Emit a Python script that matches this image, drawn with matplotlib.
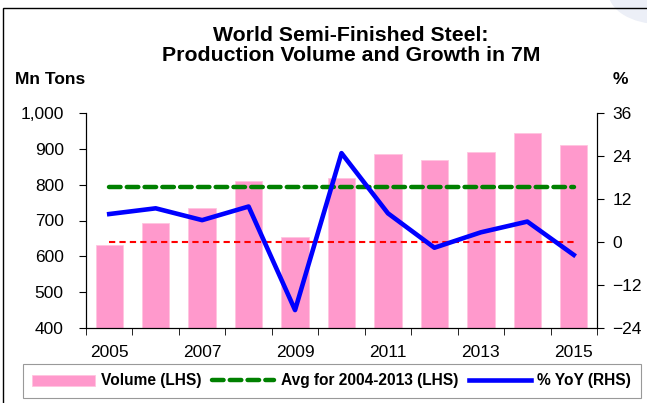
import numpy as np
import matplotlib.pyplot as plt
from matplotlib.patches import Rectangle, Ellipse

plt.rcParams['font.family'] = ['Liberation Sans', 'DejaVu Sans']

years = [2005, 2006, 2007, 2008, 2009, 2010, 2011, 2012, 2013, 2014, 2015]
volume = [633, 693, 736, 809, 655, 818, 885, 869, 892, 943, 911]
yoy = [7.8, 9.4, 6.1, 9.9, -19.0, 24.8, 8.0, -1.6, 2.7, 5.7, -3.6]
avg_2004_2013 = 793

x = np.arange(len(years))

fig = plt.figure(figsize=(6.47, 4.03), dpi=100)
# faint decoration in the top right corner
fig.patches.append(Ellipse((1.02, 1.02), 0.16, 0.16, transform=fig.transFigure,
                           facecolor='#eceff7', edgecolor='none', zorder=0))
fig.patches.append(Rectangle((3 / 647, -0.1), 1.1, 1 - 8 / 403 + 0.1, transform=fig.transFigure,
                             fill=False, edgecolor='black', linewidth=1.0))

ax = fig.add_axes([86 / 647, 1 - 328 / 403, (597 - 86) / 647, (328 - 113) / 403])
ax2 = ax.twinx()

bars = ax.bar(x, volume, width=0.59, color='#ff99cc', edgecolor='#ffc4e0', linewidth=0.6,
              label='Volume (LHS)', zorder=1)
avg_line, = ax.plot([x[0], x[-1]], [avg_2004_2013, avg_2004_2013], color='#008000',
                    linestyle=(0, (2.6, 1.4)), linewidth=3.2, dash_capstyle='round',
                    label='Avg for 2004-2013 (LHS)', zorder=3)
ax.set_ylim(400, 1000)
ax.set_yticks(range(400, 1001, 100))
ax.set_yticklabels([f'{v:,}' for v in range(400, 1001, 100)])
ax.set_xlim(-0.5, len(years) - 0.5)
ax.set_xticks(x[::2])
ax.set_xticklabels([str(y) for y in years[::2]])
ax.set_xticks(np.arange(-0.5, len(years)), minor=True)
ax.tick_params(axis='x', which='major', length=0, pad=12, labelsize=12.5)
ax.tick_params(axis='x', which='minor', length=5, direction='out')
ax.tick_params(axis='y', length=5, direction='out', labelsize=12.5, pad=11)

ax2.plot([x[0], x[-1]], [0, 0], color='red', linestyle=(0, (3, 2)), linewidth=1.5, zorder=2)
yoy_line, = ax2.plot(x, yoy, color='#0000ff', linewidth=3.3, label='% YoY (RHS)', zorder=4)
ax2.set_ylim(-24, 36)
ax2.set_yticks(range(-24, 37, 12))
ax2.tick_params(axis='y', length=5, direction='out', labelsize=12.5, pad=6)

for a in (ax, ax2):
    a.spines['top'].set_visible(False)
ax.set_zorder(ax2.get_zorder() - 1)
ax.patch.set_visible(True)
ax2.patch.set_visible(False)

fig.text(351 / 647, 1 - 26 / 403, 'World Semi-Finished Steel:\nProduction Volume and Growth in 7M',
         ha='center', va='top', fontsize=15.3, fontweight='bold', linespacing=1.05)
fig.text(15 / 647, 1 - 80 / 403, 'Mn Tons', ha='left', va='center', fontsize=12.5, fontweight='bold')
fig.text(613 / 647, 1 - 80 / 403, '%', ha='left', va='center', fontsize=12.5, fontweight='bold')

leg = fig.legend(handles=[bars, avg_line, yoy_line], loc='center left',
                 bbox_to_anchor=(23 / 647, 1 - 381 / 403), ncol=3,
                 prop={'weight': 'bold', 'size': 11.2}, frameon=True, fancybox=False,
                 edgecolor='#808080', handlelength=4.0, handletextpad=0.4, columnspacing=0.7,
                 borderpad=0.6, borderaxespad=0)
leg.get_frame().set_linewidth(0.8)

fig.savefig('out.png', dpi=100)
